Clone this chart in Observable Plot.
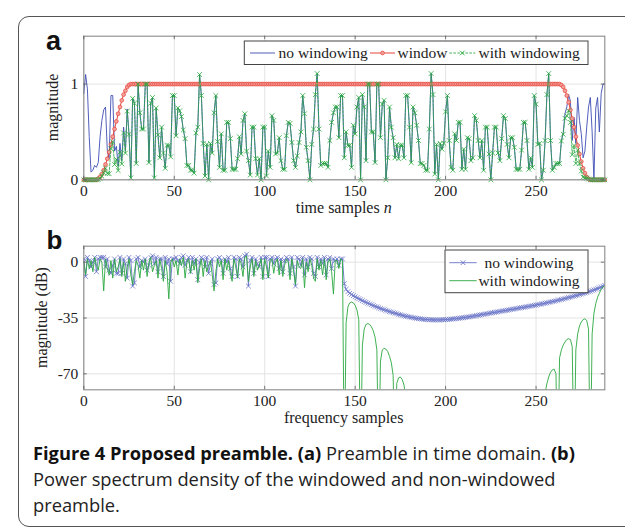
<!DOCTYPE html>
<html>
<head>
<meta charset="utf-8">
<script src="https://cdn.jsdelivr.net/npm/d3@7"></script>
<script src="https://cdn.jsdelivr.net/npm/@observablehq/plot@0.6"></script>
<style>
  html, body { margin: 0; padding: 0; background: #fff; }
  #wrap { position: relative; width: 625px; height: 531px; overflow: hidden; background: #fff; }
  #border { position: absolute; left: 18px; top: 16px; width: 660px; height: 511px; border: 1.6px solid #555; border-radius: 11px; box-sizing: border-box; }
  .plot { position: absolute; left: 0; }
  #overlay { position: absolute; left: 0; top: 0; }
  #caption { position: absolute; left: 33px; top: 440px; font-family: "Open Sans", sans-serif; font-size: 18.3px; line-height: 26px; color: #222; white-space: nowrap; }
  #caption b { color: #111; }
</style>
</head>
<body>
<div id="wrap">
  <div id="border"></div>
  <div id="top" class="plot" style="top:0px"></div>
  <div id="bottom" class="plot" style="top:220px"></div>
  <svg id="overlay" width="625" height="531"></svg>
  <div id="caption"><b>Figure 4 Proposed preamble. (a)</b> Preamble in time domain. <b>(b)</b><br>Power spectrum density of the windowed and non-windowed<br>preamble.</div>
</div>
<script>
// ---------- DATA ----------
const xTicks = [0, 50, 100, 150, 200, 250];
const topYTicks = [0, 1];
const bottomYTicks = [0, -35, -70];

// (a) time domain, no windowing, samples 0..288
const timeNoWin = [
  0.9, 1.1, 0.95, 0.45, 0.08, 0.1, 0.15, 0.13, 0.18, 0.45,
  0.62, 0.73, 0.76, 0.3, 0.22, 0.88, 0.88, 0.3, 0.35, 0.14,
  0.38, 0.2, 0.55, 0.3, 0.74, 0.48, 0.02, 0.85, 0.8, 0.17,
  1.0, 0.7, 0.53, 0.53, 1.0, 1.0, 0.18, 0.8, 0.86, 0.02,
  0.75, 0.47, 0.23, 0.55, 0.28, 0.12, 0.36, 0.36, 0.24, 0.88,
  0.88, 0.46, 0.75, 0.72, 0.66, 0.52, 0.43, 0.15, 0.15, 0.1,
  0.1, 0.07, 0.49, 0.55, 1.1, 0.88, 0.38, 0.04, 0.37, 0.0,
  0.38, 0.28, 0.7, 0.88, 0.4, 0.13, 0.48, 0.1, 0.1, 0.6,
  0.6, 0.43, 0.11, 0.11, 0.11, 0.22, 0.45, 0.27, 0.62, 0.69,
  0.3, 0.2, 0.05, 0.55, 0.55, 0.22, 0.05, 0.22, 0.0, 0.55,
  0.55, 0.04, 0.3, 0.13, 0.67, 0.62, 0.27, 0.28, 0.44, 0.2,
  0.11, 0.11, 0.46, 0.6, 0.59, 0.39, 0.2, 0.13, 0.25, 0.39,
  0.5, 0.88, 0.69, 0.34, 0.2, 0.0, 0.37, 0.53, 0.89, 1.11,
  0.53, 0.15, 0.17, 0.17, 0.17, 0.13, 0.41, 0.6, 0.7, 0.76,
  0.76, 0.44, 0.88, 0.88, 0.23, 0.5, 0.36, 0.36, 0.13, 0.57,
  0.48, 0.76, 0.86, 0.0, 0.89, 0.76, 0.2, 1.0, 1.0, 0.5,
  0.5, 0.18, 1.0, 1.0, 0.44, 0.79, 0.83, 0.0, 0.23, 0.76,
  0.55, 0.44, 0.23, 0.37, 0.22, 0.36, 0.36, 0.23, 0.88, 0.88,
  0.55, 0.18, 0.76, 0.7, 0.57, 0.41, 0.17, 0.17, 0.15, 0.1,
  0.1, 0.53, 1.11, 0.89, 0.06, 0.37, 0.0, 0.38, 0.32, 0.38,
  0.71, 0.88, 0.41, 0.13, 0.1, 0.48, 0.41, 0.6, 0.6, 0.11,
  0.32, 0.11, 0.44, 0.43, 0.2, 0.23, 0.67, 0.62, 0.41, 0.23,
  0.41, 0.1, 0.55, 0.55, 0.27, 0.0, 0.28, 0.55, 0.55, 0.28,
  0.2, 0.43, 0.67, 0.64, 0.37, 0.23, 0.44, 0.44, 0.34, 0.11,
  0.11, 0.11, 0.31, 0.6, 0.6, 0.41, 0.11, 0.23, 0.13, 0.88,
  0.79, 0.37, 0.38, 0.0, 0.1, 0.41, 0.89, 1.11, 0.41, 0.1,
  0.13, 0.17, 0.17, 0.17, 0.41, 0.49, 0.69, 0.76, 0.89, 0.82,
  0.41, 0.65, 0.38, 0.86, 0.62, 0.48, 0.23, 0.3, 0.55, 0.76,
  0.86, 0.5, 0.0, 0.75, 0.86, 0.5, 0.9, 1.0, 1.0
];

// (a) window, samples 0..288
const windowVals = [
  0, 0, 0, 0, 0, 0, 0, 0,
  0.01, 0.03, 0.06, 0.1, 0.16, 0.22, 0.29, 0.37, 0.45, 0.53, 0.61, 0.69, 0.76, 0.83, 0.89, 0.93, 0.97, 0.99,
  1,1,1,1,1,1,1,1,1,1,1,1,1,1,1,1,1,1,1,1,
  1,1,1,1,1,1,1,1,1,1,1,1,1,1,1,1,1,1,1,1,
  1,1,1,1,1,1,1,1,1,1,1,1,1,1,1,1,1,1,1,1,
  1,1,1,1,1,1,1,1,1,1,1,1,1,1,1,1,1,1,1,1,
  1,1,1,1,1,1,1,1,1,1,1,1,1,1,1,1,1,1,1,1,
  1,1,1,1,1,1,1,1,1,1,1,1,1,1,1,1,1,1,1,1,
  1,1,1,1,1,1,1,1,1,1,1,1,1,1,1,1,1,1,1,1,
  1,1,1,1,1,1,1,1,1,1,1,1,1,1,1,1,1,1,1,1,
  1,1,1,1,1,1,1,1,1,1,1,1,1,1,1,1,1,1,1,1,
  1,1,1,1,1,1,1,1,1,1,1,1,1,1,1,1,1,1,1,1,
  1,1,1,1,1,1,1,1,1,1,1,1,1,1,1,1,1,1,1,1,
  1,1,1,1,1,1,1,1,1,1,1,1,1,1,1,1,1,1,
  0.99, 0.97, 0.93, 0.88, 0.81, 0.73, 0.64, 0.55, 0.45, 0.36, 0.27, 0.19, 0.12, 0.07, 0.03, 0.01,
  0, 0, 0, 0, 0, 0, 0, 0, 0
];

// (b) power spectrum (dB), no windowing, samples 0..288
const freqNoWin = [
  2, -9, 3, 1, -3, 0, 3, -6, 2, 3,
  3, 3, -3, 2, -5, -7, -2, 2, -7, -7,
  3, -7, 2, -1, -10, 3, 1, -15, -13, 2,
  3, -3, 1, 0, 2, -5, -2, 3, 4, -1,
  3, -6, 2, 2, -9, 3, -1, 2, -12, 2,
  2, 3, 1, -1, 3, 4, -2, 1, 3, -6,
  3, -1, 2, -11, 0, 3, 2, -3, 3, -7,
  -1, 2, -14, -13, 2, 3, 1, -7, 2, 0,
  3, -4, -9, 3, 2, -9, 3, 2, -3, 4,
  5, -15, 1, 3, -7, 2, -1, -3, 3, -9,
  3, 3, -9, 2, 3, -1, 2, 3, -4, 2,
  -6, 1, 3, 2, -7, 3, -3, -15, 3, 2,
  -2, 3, -8, 2, -3, 3, 2, -7, -9, 3,
  -3, 2, -1, 3, -8, 2, 3, -4, 2, 1,
  2, -2, 2, 2,
  -13.5, -17, -18.5, -19.5, -20.3, -21, -21.7, -22.3, -22.9, -23.5,
  -24.1, -24.7, -25.2, -25.7, -26.2, -26.7, -27.2, -27.7, -28.1, -28.6,
  -29, -29.4, -29.8, -30.2, -30.6, -31, -31.3, -31.7, -32, -32.3,
  -32.7, -33, -33.3, -33.6, -33.9, -34.1, -34.4, -34.6, -34.8, -35,
  -35.2, -35.4, -35.5, -35.7, -35.8, -35.9, -36, -36.1, -36.1, -36.2,
  -36.2, -36.2, -36.2, -36.2, -36.1, -36.1, -36, -35.9, -35.8, -35.7,
  -35.6, -35.5, -35.4, -35.2, -35.1, -34.9, -34.8, -34.6, -34.4, -34.3,
  -34.1, -33.9, -33.7, -33.5, -33.3, -33.1, -32.9, -32.7, -32.5, -32.3,
  -32.1, -31.9, -31.7, -31.5, -31.3, -31.1, -30.9, -30.7, -30.5, -30.3,
  -30.1, -29.9, -29.7, -29.5, -29.3, -29.1, -28.9, -28.7, -28.5, -28.3,
  -28.1, -27.9, -27.7, -27.5, -27.3, -27.1, -26.9, -26.6, -26.4, -26.2,
  -26, -25.7, -25.5, -25.2, -25, -24.7, -24.5, -24.2, -23.9, -23.7,
  -23.4, -23.1, -22.8, -22.5, -22.2, -21.9, -21.6, -21.3, -21, -20.7,
  -20.3, -20, -19.7, -19.3, -19, -18.6, -18.2, -17.8, -17.4, -17,
  -16.6, -16.1, -15.6, -15.1, -14.6
];

// (b) power spectrum (dB), with windowing, samples 0..288
const freqWin = [
  0, -8, 2, -4, 1, -6, 3, -2, -5, 2,
  0, -18, 2, -4, -8, 1, -10, 2, -6, -3,
  2, -9, 0, -12, -3, 2, -8, -14, -6, 1,
  -2, -10, 1, -5, 2, -9, 0, 3, -6, -2,
  1, -10, 2, -4, -12, 1, -6, -23, 0, 2,
  -3, 1, -8, 2, -2, 3, -10, 0, 2, -7,
  1, -5, 2, -13, -4, 2, -9, 1, -6, -2,
  1, -8, -18, -6, 2, -3, 1, -11, 2, -5,
  1, -7, -12, 2, -3, -10, 2, -1, -9, 3,
  4, -12, -3, 2, -9, 1, -5, -2, 2, -11,
  2, -3, -10, 1, 2, -7, 0, 2, -8, 1,
  -9, -2, 2, 0, -11, 2, -6, -14, 1, -3,
  -4, 2, -16, 0, -6, 2, -2, -10, -12, 2,
  -5, 1, -8, 2, -11, 0, 2, -6, -20, 1,
  1, -4, 2, 1,
  -130,
  -38, -28, -25.5, -25, -25.5, -27, -30, -36,
  -130,
  -52, -42, -39, -38.5, -39, -40.5, -43, -47, -55,
  -130,
  -62, -55, -54, -54.5, -56, -59, -63, -71,
  -130,
  -76, -72.5, -72, -73.5, -77, -85,
  -130,
  -92, -87, -86, -86.5, -88, -91, -97, -130,
  -99, -95, -94, -94.5, -96, -99, -105, -130,
  -105, -101, -100, -100.5, -102, -105, -111, -130,
  -108, -104, -103, -103.5, -105, -108, -114, -130,
  -110, -106, -105, -105.5, -107, -110, -116, -130,
  -110, -106, -105, -105.5, -107, -110, -116, -130,
  -108, -104, -103, -103, -104.5, -108, -130,
  -104, -99, -97, -96.5, -97, -99, -104, -130,
  -97, -92, -90, -89, -89, -90.5, -94, -130,
  -90, -85, -84,
  -130,
  -82, -76, -72, -69, -67.5, -67, -70,
  -130,
  -60, -55, -52, -50, -48.5, -48, -48.5, -53,
  -130,
  -55, -45, -40, -37.5, -36, -35.5, -36.5, -42,
  -130,
  -45, -32, -26, -22, -19.5, -17, -15.5, -14.6
];

// ---------- DRAW ----------
const samples = timeNoWin.map((_, i) => i);
const timeWithWin = timeNoWin.map((v, i) => v * windowVals[i]);

const blueTop = "#3d4db3";
const blueBot = "#6873c6";
const red = "#e6443b";
const green = "#2aa83f";
const gridColor = "#dcdcdc";
const frameColor = "#8a8a8a";
const serif = "'Liberation Serif', 'DejaVu Serif', serif";

function tickMarks(plotW, plotH, xt, yt) {
  const len = 3.5;
  return [
    Plot.tickX(xt, {x: d => d, stroke: "#555", strokeWidth: 0.8, insetTop: plotH - len}),
    Plot.tickX(xt, {x: d => d, stroke: "#555", strokeWidth: 0.8, insetBottom: plotH - len}),
    Plot.tickY(yt, {y: d => d, stroke: "#555", strokeWidth: 0.8, insetRight: plotW - len}),
    Plot.tickY(yt, {y: d => d, stroke: "#555", strokeWidth: 0.8, insetLeft: plotW - len})
  ];
}

const mTop = {l: 83.3, r: 20.7, t: 35.7, b: 40.7};
const topPlot = Plot.plot({
  width: 625, height: 220,
  marginLeft: mTop.l, marginRight: mTop.r, marginTop: mTop.t, marginBottom: mTop.b,
  style: {fontFamily: serif, fontSize: "15.5px", color: "#222", background: "transparent", overflow: "visible"},
  x: {domain: [0, 288]},
  y: {domain: [0, 1.5]},
  marks: [
    Plot.gridX(xTicks, {x: d => d, stroke: gridColor, strokeOpacity: 1, strokeWidth: 0.8}),
    Plot.gridY(topYTicks, {y: d => d, stroke: gridColor, strokeOpacity: 1, strokeWidth: 0.8}),
    Plot.line(samples, {x: d => d, y: i => timeNoWin[i], stroke: blueTop, strokeWidth: 0.9}),
    Plot.line(samples, {x: d => d, y: i => windowVals[i], stroke: red, strokeWidth: 1}),
    Plot.dot(samples, {x: d => d, y: i => windowVals[i], r: 1.9, stroke: red, fill: "#f3a19b", strokeWidth: 0.7}),
    Plot.line(samples, {x: d => d, y: i => timeWithWin[i], stroke: green, strokeWidth: 0.8, strokeDasharray: "2.5,1.5"}),
    Plot.dot(samples, {x: d => d, y: i => timeWithWin[i], symbol: "times", r: 2.3, stroke: green, strokeWidth: 0.8}),
    Plot.frame({stroke: frameColor, strokeWidth: 1.1}),
    ...tickMarks(625 - mTop.l - mTop.r, 220 - mTop.t - mTop.b, xTicks, topYTicks),
    Plot.axisX({ticks: xTicks, tickSize: 0, tickPadding: 5, label: null, tickFormat: d => String(d)}),
    Plot.axisY({ticks: topYTicks, tickSize: 0, tickPadding: 5.5, label: null, tickFormat: d => String(d)})
  ]
});
document.getElementById("top").appendChild(topPlot);

const mBot = {l: 83.3, r: 20.7, t: 25.7, b: 40.7};
const bottomPlot = Plot.plot({
  width: 625, height: 210,
  marginLeft: mBot.l, marginRight: mBot.r, marginTop: mBot.t, marginBottom: mBot.b,
  style: {fontFamily: serif, fontSize: "15.5px", color: "#222", background: "transparent", overflow: "visible"},
  x: {domain: [0, 288]},
  y: {domain: [-80, 10]},
  marks: [
    Plot.gridX(xTicks, {x: d => d, stroke: gridColor, strokeOpacity: 1, strokeWidth: 0.8}),
    Plot.gridY(bottomYTicks, {y: d => d, stroke: gridColor, strokeOpacity: 1, strokeWidth: 0.8}),
    Plot.line(samples, {x: d => d, y: i => freqNoWin[i], stroke: blueBot, strokeWidth: 0.9, clip: true}),
    Plot.dot(samples, {x: d => d, y: i => freqNoWin[i], symbol: "times", r: 2.3, stroke: blueBot, strokeWidth: 0.8, clip: true}),
    Plot.line(samples, {x: d => d, y: i => freqWin[i], stroke: green, strokeWidth: 0.9, clip: true}),
    Plot.frame({stroke: frameColor, strokeWidth: 1.1}),
    ...tickMarks(625 - mBot.l - mBot.r, 210 - mBot.t - mBot.b, xTicks, bottomYTicks),
    Plot.axisX({ticks: xTicks, tickSize: 0, tickPadding: 5, label: null, tickFormat: d => String(d)}),
    Plot.axisY({ticks: bottomYTicks, tickSize: 0, tickPadding: 5.5, label: null, tickFormat: d => String(d)})
  ]
});
document.getElementById("bottom").appendChild(bottomPlot);

// ---------- LABELS & LEGENDS (overlay) ----------
const ov = d3.select("#overlay");
const sans = "'Liberation Sans', Arial, sans-serif";
ov.append("text").attr("x", 46).attr("y", 50).attr("font-family", sans).attr("font-weight", "bold").attr("font-size", 27).attr("fill", "#111").text("a");
ov.append("text").attr("x", 46.5).attr("y", 249.3).attr("font-family", sans).attr("font-weight", "bold").attr("font-size", 26).attr("fill", "#111").text("b");

function t(x, y, s, opts = {}) {
  const el = ov.append("text").attr("x", x).attr("y", y).attr("font-family", serif).attr("font-size", opts.size || 15.5).attr("fill", "#222");
  if (opts.anchor) el.attr("text-anchor", opts.anchor);
  if (opts.transform) el.attr("transform", opts.transform).attr("x", 0).attr("y", 0);
  el.text(s);
  return el;
}
t(0, 0, "magnitude", {anchor: "middle", size: 16, transform: "translate(57.5,107.5) rotate(-90)"});
t(0, 0, "magnitude (dB)", {anchor: "middle", size: 16, transform: "translate(46.5,317.5) rotate(-90)"});
const xl = t(343.7, 213, "time samples ", {anchor: "middle", size: 16});
xl.append("tspan").attr("font-style", "italic").text("n");
t(343.7, 422.5, "frequency samples", {anchor: "middle", size: 16});

function cross(g, x, y, color) {
  g.append("path").attr("d", `M${x-2.3},${y-2.3}L${x+2.3},${y+2.3}M${x-2.3},${y+2.3}L${x+2.3},${y-2.3}`).attr("stroke", color).attr("stroke-width", 0.9).attr("fill", "none");
}

// top legend
const lg = ov.append("g");
lg.append("rect").attr("x", 244.3).attr("y", 41).attr("width", 343.7).attr("height", 23.5).attr("fill", "#fff").attr("stroke", "#444").attr("stroke-width", 1);
const ly = 53;
lg.append("line").attr("x1", 250).attr("x2", 275).attr("y1", ly).attr("y2", ly).attr("stroke", blueTop).attr("stroke-width", 0.9);
t(278.5, ly + 4.8, "no windowing");
lg.append("line").attr("x1", 370).attr("x2", 395).attr("y1", ly).attr("y2", ly).attr("stroke", red).attr("stroke-width", 1);
lg.append("circle").attr("cx", 382.5).attr("cy", ly).attr("r", 1.9).attr("stroke", red).attr("fill", "#f3a19b").attr("stroke-width", 0.7);
t(397.5, ly + 4.8, "window");
lg.append("line").attr("x1", 449.4).attr("x2", 475.3).attr("y1", ly).attr("y2", ly).attr("stroke", green).attr("stroke-width", 0.9).attr("stroke-dasharray", "2.5,1.5");
cross(lg, 462.3, ly, green);
t(478.5, ly + 4.8, "with windowing");

// bottom legend
const lb = ov.append("g");
lb.append("rect").attr("x", 445).attr("y", 250).attr("width", 143).attr("height", 42.7).attr("fill", "#fff").attr("stroke", "#444").attr("stroke-width", 1);
const r1 = 262.7, r2 = 280.7;
lb.append("line").attr("x1", 449.3).attr("x2", 476.7).attr("y1", r1).attr("y2", r1).attr("stroke", blueBot).attr("stroke-width", 0.9);
cross(lb, 463, r1, blueBot);
t(529, r1 + 4.8, "no windowing", {anchor: "middle"});
lb.append("line").attr("x1", 449.3).attr("x2", 476.7).attr("y1", r2).attr("y2", r2).attr("stroke", green).attr("stroke-width", 0.9);
t(529, r2 + 4.8, "with windowing", {anchor: "middle"});
</script>
</body>
</html>
